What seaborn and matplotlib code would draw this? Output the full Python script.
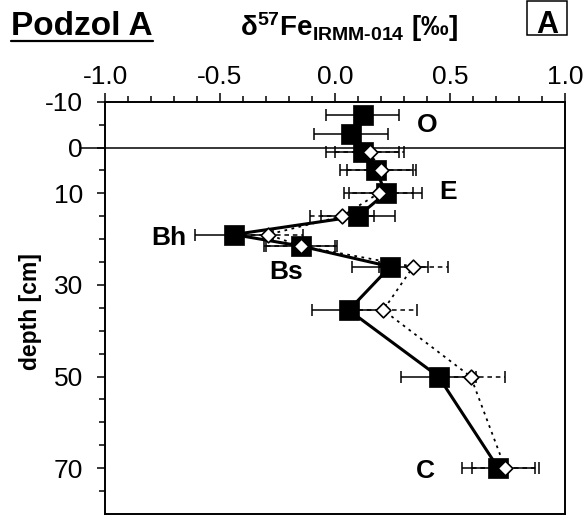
import matplotlib
matplotlib.use("Agg")
import matplotlib.pyplot as plt
from matplotlib.patches import Rectangle
from matplotlib.lines import Line2D
from matplotlib.ticker import MultipleLocator, FixedLocator
import seaborn as sns

# ---- data ----
sq_depth = [-7, -3, 1, 5, 10, 15, 19, 21.5, 26, 35.5, 50, 70]
sq_d57 = [0.12, 0.07, 0.12, 0.18, 0.22, 0.10, -0.44, -0.15, 0.24, 0.06, 0.45, 0.71]
sq_err = [0.16, 0.16, 0.16, 0.16, 0.16, 0.16, 0.17, 0.16, 0.165, 0.16, 0.165, 0.16]

dm_depth = [1, 5, 10, 15, 19, 21.5, 26, 35.5, 50, 70]
dm_d57 = [0.15, 0.20, 0.19, 0.03, -0.29, -0.15, 0.34, 0.21, 0.59, 0.74]
dm_err = [0.15, 0.15, 0.15, 0.14, 0.15, 0.15, 0.15, 0.145, 0.148, 0.145]

x_ticks = [-1.0, -0.5, 0.0, 0.5, 1.0]
x_ticklabels = ["-1.0", "-0.5", "0.0", "0.5", "1.0"]
y_ticks = [-10, 0, 10, 30, 50, 70]
y_ticklabels = ["-10", "0", "10", "30", "50", "70"]
y_minor = [-5, 5, 15, 20, 25, 35, 40, 45, 55, 60, 65, 75]

horizon_names = ["O", "E", "Bh", "Bs", "C"]
horizon_x = [0.40, 0.49, -0.722, -0.211, 0.395]
horizon_y = [-3.4, 11.3, 21.3, 28.8, 72.2]

# ---- style ----
sns.set_theme(style="white")
plt.rcParams["font.family"] = ["Liberation Sans", "DejaVu Sans"]
plt.rcParams["axes.unicode_minus"] = False
plt.rcParams["mathtext.fontset"] = "custom"
plt.rcParams["mathtext.rm"] = "Liberation Sans:bold"
plt.rcParams["mathtext.it"] = "Liberation Sans:bold"
plt.rcParams["mathtext.bf"] = "Liberation Sans:bold"
plt.rcParams["mathtext.default"] = "rm"
for k in ["text.color", "axes.labelcolor", "xtick.color", "ytick.color",
          "axes.edgecolor"]:
    plt.rcParams[k] = "black"

fig = plt.figure(figsize=(5.84, 5.15), dpi=100)
ax = fig.add_axes([105 / 584, 1 - 514 / 515, 460 / 584, (514 - 101.7) / 515])

# error bars
eb_d = ax.errorbar(dm_d57, dm_depth, xerr=dm_err, fmt="none", ecolor="black",
                   elinewidth=1.1, capsize=4.3, capthick=1.1, zorder=2)
eb_d[2][0].set_linestyle((0, (3, 2.5)))
ax.errorbar(sq_d57, sq_depth, xerr=sq_err, fmt="none", ecolor="black",
            elinewidth=1.1, capsize=4.3, capthick=1.1, zorder=2.1)

# lines
sns.lineplot(x=dm_d57, y=dm_depth, sort=False, estimator=None, color="black",
             lw=1.3, linestyle=(0, (1.5, 2.5)), ax=ax, zorder=3)
sns.lineplot(x=sq_d57, y=sq_depth, sort=False, estimator=None, color="black",
             lw=2.2, ax=ax, zorder=3.1)

# markers
sns.scatterplot(x=sq_d57, y=sq_depth, marker="s", s=196, color="black",
                edgecolor="black", linewidth=0.5, ax=ax, zorder=4)
sns.scatterplot(x=dm_d57, y=dm_depth, marker="D", s=56, color="white",
                edgecolor="black", linewidth=1.2, ax=ax, zorder=5)

ax.axhline(0, xmin=-0.054, xmax=1, clip_on=False, color="black", lw=1.1, zorder=1.5)

# axes
ax.set_xlim(-1, 1)
ax.set_ylim(80, -10)
ax.xaxis.tick_top()
ax.set_xticks(x_ticks)
ax.set_xticklabels(x_ticklabels)
ax.xaxis.set_minor_locator(MultipleLocator(0.1))
ax.set_yticks(y_ticks)
ax.set_yticklabels(y_ticklabels)
ax.yaxis.set_minor_locator(FixedLocator(y_minor))
ax.tick_params(axis="x", which="both", direction="out", top=True, bottom=False,
               labeltop=True, labelbottom=False, width=1.1, color="black",
               labelcolor="black")
ax.tick_params(axis="x", which="major", length=6.5, pad=3, labelsize=19)
ax.tick_params(axis="x", which="minor", length=4.3)
ax.tick_params(axis="y", which="both", direction="out", left=True, right=False,
               width=1.1, color="black", labelcolor="black")
ax.tick_params(axis="y", which="major", length=5.8, pad=10, labelsize=19)
ax.tick_params(axis="y", which="minor", length=4.0)
for sp in ax.spines.values():
    sp.set_visible(True)
    sp.set_color("black")
    sp.set_linewidth(1.4)
ax.set_xlabel("")
ax.set_ylabel("")

# horizon labels
for name, hx, hy in zip(horizon_names, horizon_x, horizon_y):
    ax.text(hx, hy, name, ha="center", va="baseline", fontsize=19,
            fontweight="bold", color="black", zorder=6)

# titles
t = fig.text(11 / 584, 1 - 35 / 515, "Podzol A", fontsize=24, fontweight="bold",
             ha="left", va="baseline", color="black")
fig.text(349 / 584, 1 - 36 / 515, r"$\delta^{57}$Fe$_{IRMM\text{-}014}$ [‰]",
         ha="center", va="baseline", fontsize=20, fontweight="bold", color="black")
fig.add_artist(Rectangle((527 / 584, 1 - 35 / 515), 40 / 584, 34 / 515,
                         transform=fig.transFigure, fill=False, lw=1.1, ec="black"))
fig.text(547 / 584, 1 - 33 / 515, "A", ha="center", va="baseline", fontsize=22,
         fontweight="bold", color="black")
fig.text(31 / 584, 1 - 311.7 / 515, "depth [cm]", rotation=90, ha="center",
         va="center", fontsize=16.5, fontweight="bold", color="black")

fig.canvas.draw()
bb = t.get_window_extent()
uy = 1 - 40.7 / 515
fig.add_artist(Line2D([bb.x0 / 584, bb.x1 / 584], [uy, uy], transform=fig.transFigure,
                      color="black", lw=1.6))

fig.savefig("out.png", dpi=100)
